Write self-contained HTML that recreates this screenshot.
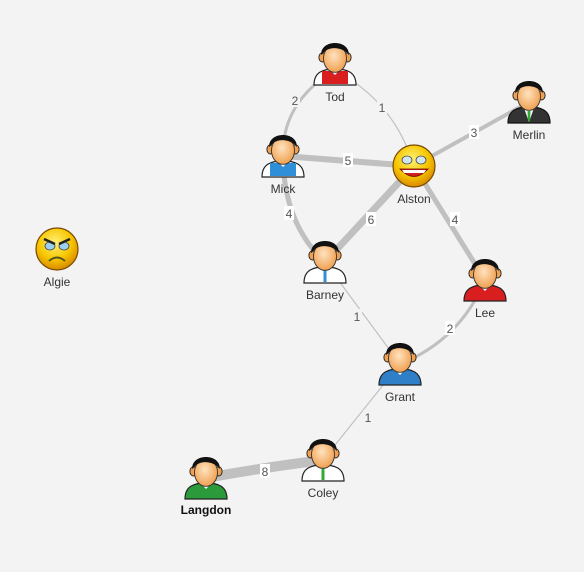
<!DOCTYPE html>
<html><head><meta charset="utf-8"><style>
html,body{margin:0;padding:0;background:#f3f3f3;}
svg{display:block;font-family:"Liberation Sans","DejaVu Sans",sans-serif;}
.lbl{font-size:12px;fill:#333;text-anchor:middle;}
.el{font-size:12px;fill:#555;text-anchor:middle;}
</style></head><body>
<svg width="584" height="572" viewBox="0 0 584 572">
<defs>
<radialGradient id="skin" cx="45%" cy="40%" r="60%"><stop offset="0" stop-color="#ffe3c0"/><stop offset="1" stop-color="#f0a050"/></radialGradient>
<radialGradient id="smile" cx="45%" cy="35%" r="65%"><stop offset="0" stop-color="#fff27a"/><stop offset="0.6" stop-color="#f7c600"/><stop offset="1" stop-color="#d88a00"/></radialGradient>
<g id="head">
<g transform="translate(0,-2) scale(1.15)">
<ellipse cx="-11" cy="-4" rx="3" ry="4" fill="#f0a050" stroke="#222" stroke-width="0.8"/>
<ellipse cx="11" cy="-4" rx="3" ry="4" fill="#f0a050" stroke="#222" stroke-width="0.8"/>
<ellipse cx="0" cy="-3" rx="10" ry="12" fill="url(#skin)" stroke="#333" stroke-width="0.8"/>
<path d="M-12,-6 C-13,-20 13,-20 12,-6 C8,-12 -2,-14 -8,-10 Z" fill="#111"/>
</g>
</g>
</defs>
<g fill="none" stroke="#c0c0c0" stroke-linecap="butt">
<path d="M335,70 Q285,100 283,150" stroke-width="3"/>
<path d="M335,70 Q390,100 410,155" stroke-width="1.2"/>
<path d="M283,156 L414,166" stroke-width="6"/>
<path d="M414,166 L529,102" stroke-width="4"/>
<path d="M283,160 Q285,225 325,262" stroke-width="5"/>
<path d="M325,262 L414,166" stroke-width="7"/>
<path d="M414,166 L485,280" stroke-width="5"/>
<path d="M325,262 L400,364" stroke-width="1.2"/>
<path d="M485,280 Q460,340 400,364" stroke-width="3"/>
<path d="M400,364 L323,460" stroke-width="1.2"/>
<path d="M323,460 Q260,468 206,478" stroke-width="10"/>
</g>
<g class="el">
<rect x="290" y="93" width="10" height="14" fill="#f3f3f3"/><text x="295" y="105">2</text>
<rect x="377" y="100" width="10" height="14" fill="#f3f3f3"/><text x="382" y="112">1</text>
<rect x="343" y="153" width="10" height="14" fill="#fff"/><text x="348" y="165">5</text>
<rect x="469" y="125" width="10" height="14" fill="#fff"/><text x="474" y="137">3</text>
<rect x="284" y="206" width="10" height="14" fill="#fff"/><text x="289" y="218">4</text>
<rect x="366" y="212" width="10" height="14" fill="#fff"/><text x="371" y="224">6</text>
<rect x="450" y="212" width="10" height="14" fill="#fff"/><text x="455" y="224">4</text>
<rect x="352" y="309" width="10" height="14" fill="#f3f3f3"/><text x="357" y="321">1</text>
<rect x="445" y="321" width="10" height="14" fill="#fff"/><text x="450" y="333">2</text>
<rect x="363" y="410" width="10" height="14" fill="#f3f3f3"/><text x="368" y="422">1</text>
<rect x="260" y="464" width="10" height="14" fill="#fff"/><text x="265" y="476">8</text>
</g>
<g id="persons">
<g transform="translate(335,64)"><path d="M-21,21 C-21,8 -12,5 0,5 C12,5 21,8 21,21 Z" fill="#fff" stroke="#222" stroke-width="1.2"/><path d="M-13,20 L-13,7 L13,7 L13,20 Z" fill="#d81e1e"/><path d="M-5,6 L0,11 L5,6 Z" fill="#fff"/><use href="#head"/></g>
<g transform="translate(529,102)"><path d="M-21,21 C-21,8 -12,5 0,5 C12,5 21,8 21,21 Z" fill="#333" stroke="#111" stroke-width="1.2"/><path d="M-5,6 L0,20 L5,6 Z" fill="#fff"/><path d="M-1.5,9 L1.5,9 L1,19 L-1,19Z" fill="#3a3"/><use href="#head"/></g>
<g transform="translate(283,156)"><path d="M-21,21 C-21,8 -12,5 0,5 C12,5 21,8 21,21 Z" fill="#fff" stroke="#222" stroke-width="1.2"/><path d="M-13,20 L-13,7 L13,7 L13,20 Z" fill="#2f8fd8"/><path d="M-5,6 L0,11 L5,6 Z" fill="#fff"/><use href="#head"/></g>
<g transform="translate(325,262)"><path d="M-21,21 C-21,8 -12,5 0,5 C12,5 21,8 21,21 Z" fill="#fff" stroke="#222" stroke-width="1.2"/><path d="M-1.5,8 L1.5,8 L1.5,20 L-1.5,20Z" fill="#2f8fd8"/><use href="#head"/></g>
<g transform="translate(485,280)"><path d="M-21,21 C-21,8 -12,5 0,5 C12,5 21,8 21,21 Z" fill="#d81e1e" stroke="#222" stroke-width="1.2"/><path d="M-5,6 L0,11 L5,6 Z" fill="#fff"/><use href="#head"/></g>
<g transform="translate(400,364)"><path d="M-21,21 C-21,8 -12,5 0,5 C12,5 21,8 21,21 Z" fill="#2f7fc8" stroke="#222" stroke-width="1.2"/><path d="M-5,6 L0,11 L5,6 Z" fill="#fff"/><use href="#head"/></g>
<g transform="translate(323,460)"><path d="M-21,21 C-21,8 -12,5 0,5 C12,5 21,8 21,21 Z" fill="#fff" stroke="#222" stroke-width="1.2"/><path d="M-1.5,8 L1.5,8 L1.5,20 L-1.5,20Z" fill="#3a3"/><use href="#head"/></g>
<g transform="translate(206,478)"><path d="M-21,21 C-21,8 -12,5 0,5 C12,5 21,8 21,21 Z" fill="#2a9a3a" stroke="#222" stroke-width="1.2"/><path d="M-5,6 L0,11 L5,6 Z" fill="#fff"/><use href="#head"/></g>
</g>
<g transform="translate(414,166)">
<circle r="21" fill="url(#smile)" stroke="#7a4a00" stroke-width="1.2"/>
<ellipse cx="-7" cy="-6" rx="5" ry="4" fill="#cfe6f0" stroke="#444" stroke-width="0.8"/>
<ellipse cx="7" cy="-6" rx="5" ry="4" fill="#cfe6f0" stroke="#444" stroke-width="0.8"/>
<path d="M-14,3 Q0,18 14,3 Z" fill="#d02020" stroke="#600" stroke-width="0.8"/>
<path d="M-12,4 L12,4 L10,7 L-10,7Z" fill="#fff"/>
</g>
<g transform="translate(57,249)">
<circle r="21" fill="url(#smile)" stroke="#7a4a00" stroke-width="1.2"/>
<ellipse cx="-7" cy="-3" rx="5" ry="4" fill="#9cd0f0" stroke="#444" stroke-width="0.8"/>
<ellipse cx="7" cy="-3" rx="5" ry="4" fill="#9cd0f0" stroke="#444" stroke-width="0.8"/>
<path d="M-13,-10 L-2,-5 M13,-10 L2,-5" stroke="#222" stroke-width="2.5"/>
<path d="M-8,12 Q0,5 8,12" stroke="#552" stroke-width="2" fill="none"/>
</g>
<g class="lbl">
<text x="335" y="101">Tod</text>
<text x="529" y="139">Merlin</text>
<text x="283" y="193">Mick</text>
<text x="414" y="203">Alston</text>
<text x="57" y="286">Algie</text>
<text x="325" y="299">Barney</text>
<text x="485" y="317">Lee</text>
<text x="400" y="401">Grant</text>
<text x="323" y="497">Coley</text>
<text x="206" y="514" style="font-weight:bold;fill:#111">Langdon</text>
</g>
</svg>
</body></html>
